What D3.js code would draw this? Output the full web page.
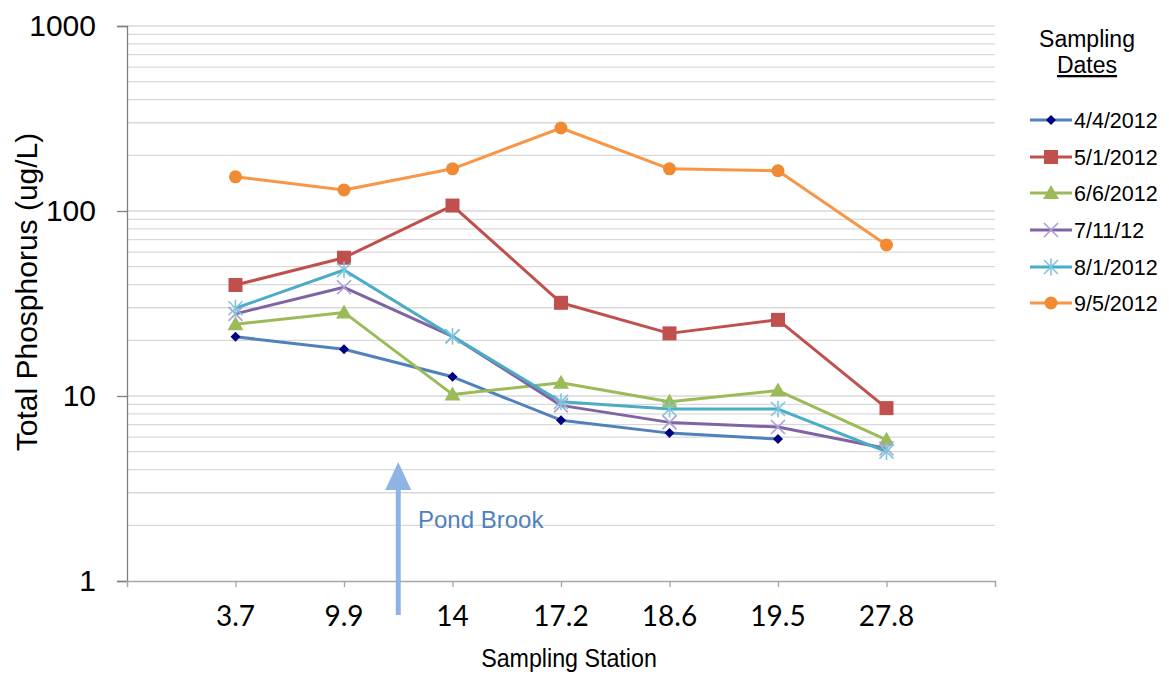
<!DOCTYPE html>
<html><head><meta charset="utf-8">
<script src="https://cdn.jsdelivr.net/npm/d3@7"></script>
<style>body{margin:0;background:#fff}svg{display:block}</style>
</head><body><svg id="c" width="1169" height="677"></svg>
<script>
const stations = ["3.7","9.9","14","17.2","18.6","19.5","27.8"];
const yTicks = [1,10,100,1000];
const seriesNames = ["4/4/2012","5/1/2012","6/6/2012","7/11/12","8/1/2012","9/5/2012"];
const s0404 = [20.9,17.9,12.7,7.4,6.3,5.85,null];
const s0501 = [39.8,55.9,107,31.9,21.8,25.8,8.6];
const s0606 = [24.4,28.3,10.2,11.8,9.3,10.7,5.8];
const s0711 = [27.8,38.7,21.0,8.9,7.2,6.8,5.2];
const s0801 = [29.8,48.0,21.0,9.3,8.5,8.5,5.0];
const s0905 = [153,130,169,281,169,165,65.5];
const values = [s0404,s0501,s0606,s0711,s0801,s0905];
const lineColors = ["#4f81bd","#c0504d","#9bbb59","#8064a2","#4bacc6","#f79646"];
const markerColors = ["#000080","#c0504d","#9bbb59","#a8a0d8","#4bacc6","#f08a33"];
const markers = ["diamond","square","triangle","x","star","circle"];

const svg = d3.select("#c");
const L=127, R=995, T=26, B=581;
const x = d3.scaleLinear().domain([0,8]).range([L,R]);
const y = d3.scaleLog().domain([1,1000]).range([B,T]);
const SANS = "Liberation Sans, Arial, sans-serif";

// minor gridlines
const grid=[];
for(let d=1; d<1000; d*=10) for(let k=2;k<=10;k++) grid.push(d*k);
svg.append("g").selectAll("line").data(grid).join("line")
  .attr("x1",L).attr("x2",R).attr("y1",d=>y(d)).attr("y2",d=>y(d))
  .attr("stroke","#d9d9d9").attr("stroke-width",1.3);

// axes
const yAxis = d3.axisLeft(y).tickValues(yTicks).tickFormat(d3.format("d")).tickSize(10).tickPadding(21);
const gy = svg.append("g").attr("transform",`translate(${L},0)`).call(yAxis);
gy.select(".domain").attr("stroke","#7f7f7f").attr("stroke-width",1.3);
gy.selectAll(".tick line").attr("stroke","#7f7f7f").attr("stroke-width",1.3);
gy.selectAll("text").attr("font-family",SANS).attr("font-size",30).attr("fill","#000");

const xAxis = d3.axisBottom(x).tickValues(d3.range(0,9)).tickSize(6).tickFormat(()=>"");
const gx = svg.append("g").attr("transform",`translate(0,${B})`).call(xAxis);
gx.select(".domain").attr("stroke","#a6a6a6").attr("stroke-width",1.3);
gx.selectAll(".tick line").attr("stroke","#a6a6a6").attr("stroke-width",1.3);
svg.append("g").selectAll("text").data(stations).join("text")
  .attr("x",(d,i)=>x(i+1)).attr("y",626).attr("text-anchor","middle")
  .attr("font-family","Lato, Liberation Sans, sans-serif").attr("font-size",28)
  .attr("fill","#000").text(d=>d);

// axis titles
svg.append("text").attr("transform","translate(37,292) rotate(-90)").attr("text-anchor","middle")
  .attr("font-family",SANS).attr("font-size",30).text("Total Phosphorus (ug/L)");
svg.append("text").attr("transform","translate(569,667) scale(0.93,1)").attr("text-anchor","middle")
  .attr("font-family",SANS).attr("font-size",25).text("Sampling  Station");

// Pond Brook arrow
const arrowX = x(2.5);
svg.append("line").attr("x1",arrowX).attr("x2",arrowX).attr("y1",615).attr("y2",488)
  .attr("stroke","#8eb4e3").attr("stroke-width",5);
svg.append("path").attr("d",`M${arrowX-13},490 L${arrowX},462 L${arrowX+13},490 Z`).attr("fill","#8eb4e3");
svg.append("text").attr("x",418).attr("y",528).attr("font-family",SANS)
  .attr("font-size",24).attr("fill","#4f81bd").text("Pond Brook");

function drawMarker(g, type, cx, cy, color){
  if(type==="diamond"){
    g.append("path").attr("d",`M${cx},${cy-5} L${cx+5},${cy} L${cx},${cy+5} L${cx-5},${cy} Z`).attr("fill",color);
  } else if(type==="square"){
    const s=14; g.append("rect").attr("x",cx-s/2).attr("y",cy-s/2).attr("width",s).attr("height",s).attr("fill",color);
  } else if(type==="triangle"){
    const s=8; g.append("path").attr("d",`M${cx},${cy-s} L${cx+s},${cy+s*0.75} L${cx-s},${cy+s*0.75} Z`).attr("fill",color);
  } else if(type==="circle"){
    g.append("circle").attr("cx",cx).attr("cy",cy).attr("r",6.5).attr("fill",color);
  } else if(type==="x"){
    const s=7;
    g.append("path").attr("d",`M${cx-s},${cy-s} L${cx+s},${cy+s} M${cx-s},${cy+s} L${cx+s},${cy-s}`).attr("stroke",color).attr("stroke-width",1.6);
  } else if(type==="star"){
    const s=7;
    g.append("path").attr("d",`M${cx-s},${cy-s} L${cx+s},${cy+s} M${cx-s},${cy+s} L${cx+s},${cy-s} M${cx},${cy-s*1.2} L${cx},${cy+s*1.2}`).attr("stroke","#7fc6da").attr("stroke-width",1.6);
  }
}

// series
const lineGen = d3.line().x(d=>x(d.i+1)).y(d=>y(d.v));
values.forEach((vals,si)=>{
  const pts = vals.map((v,i)=>({v,i})).filter(d=>d.v!=null);
  svg.append("path").datum(pts).attr("d",lineGen).attr("fill","none")
    .attr("stroke",lineColors[si]).attr("stroke-width",3).attr("stroke-linejoin","round");
});
values.forEach((vals,si)=>{
  const g = svg.append("g");
  vals.forEach((v,i)=>{ if(v!=null) drawMarker(g, markers[si], x(i+1), y(v), markerColors[si]); });
});

// legend
svg.append("text").attr("x",1087).attr("y",47).attr("text-anchor","middle")
  .attr("font-family",SANS).attr("font-size",23).text("Sampling");
svg.append("text").attr("x",1087).attr("y",73).attr("text-anchor","middle")
  .attr("font-family",SANS).attr("font-size",23).attr("text-decoration","underline").text("Dates");
const legY = [120,157,193,230,267,303];
seriesNames.forEach((n,si)=>{
  const g = svg.append("g");
  g.append("line").attr("x1",1030).attr("x2",1072).attr("y1",legY[si]).attr("y2",legY[si])
    .attr("stroke",lineColors[si]).attr("stroke-width",3);
  drawMarker(g, markers[si], 1051, legY[si], markerColors[si]);
  g.append("text").attr("x",1074).attr("y",legY[si]+8).attr("font-family",SANS)
    .attr("font-size",21.5).text(n);
});
</script></body></html>
